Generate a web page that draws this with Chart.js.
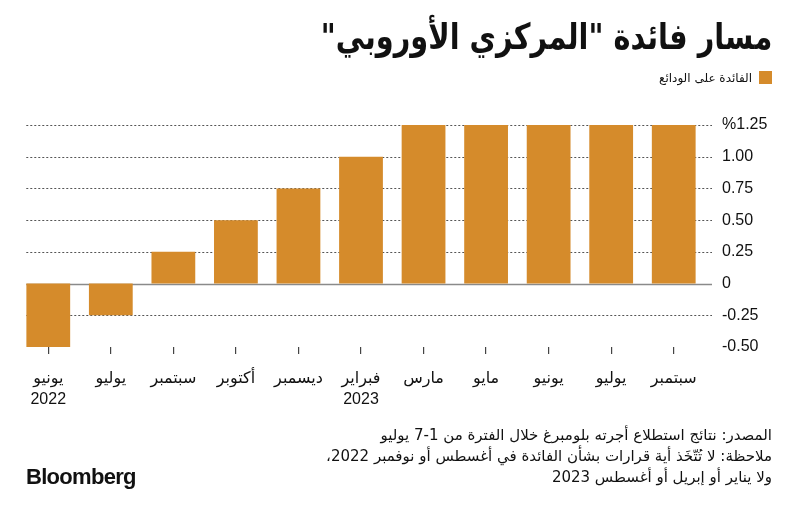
<!DOCTYPE html>
<html lang="ar">
<head>
<meta charset="utf-8">
<script src="https://cdn.jsdelivr.net/npm/chart.js@4"></script>
<style>
  html, body { margin: 0; padding: 0; background: #fff; }
  #wrap { position: relative; width: 800px; height: 516px; overflow: hidden; }
  #c { position: absolute; left: 0; top: 0; }
  .txt { position: absolute; direction: rtl; font-family: "DejaVu Sans", sans-serif; color: #111; white-space: nowrap; }
  #title { right: 28px; top: 16px; font-size: 36px; font-weight: bold; transform: scaleX(0.8); transform-origin: right top; }
  #legend { right: 28px; top: 71px; font-size: 12px; }
  #legend span.sw { display: inline-block; width: 13px; height: 13px; background: #D58B2B; vertical-align: -2px; margin-left: 7px; }
  #note { right: 28px; top: 425px; font-size: 15px; line-height: 21px; text-align: right; }
  #brand { left: 26px; top: 464px; font-family: "Liberation Sans", Arial, sans-serif; font-weight: bold; font-size: 22px; letter-spacing: -0.7px; direction: ltr; }
</style>
</head>
<body>
<div id="wrap">
  <canvas id="c" width="800" height="516"></canvas>
  <div class="txt" id="title">مسار فائدة "المركزي الأوروبي"</div>
  <div class="txt" id="legend"><span class="sw"></span>الفائدة على الودائع</div>
  <div class="txt" id="note">المصدر: نتائج استطلاع أجرته بلومبرغ خلال الفترة من 1-7 يوليو<br>ملاحظة: لا تُتّخَذ أية قرارات بشأن الفائدة في أغسطس أو نوفمبر 2022،<br>ولا يناير أو إبريل أو أغسطس 2023</div>
  <div class="txt" id="brand">Bloomberg</div>
</div>
<script>
const months = [['يونيو','2022'], 'يوليو', 'سبتمبر', 'أكتوبر', 'ديسمبر', ['فبراير','2023'], 'مارس', 'مايو', 'يونيو', 'يوليو', 'سبتمبر'];
const depositRate = [-0.5, -0.25, 0.25, 0.5, 0.75, 1.0, 1.25, 1.25, 1.25, 1.25, 1.25];
const yTicks = [-0.5, -0.25, 0, 0.25, 0.5, 0.75, 1.0, 1.25];
const yTickLabels = ['-0.50', '-0.25', '0', '0.25', '0.50', '0.75', '1.00', '%1.25'];

const BAR = '#D58B2B';

// dotted grid + solid zero line, drawn a bit wider than the plot like the original
const gridLines = {
  id: 'gridLines',
  beforeDatasetsDraw(chart) {
    const { ctx, scales: { x, y } } = chart;
    const left = x.getPixelForValue(0) - 22;
    const right = chart.chartArea.right + 7;
    ctx.save();
    yTicks.forEach(v => {
      if (v === -0.5) return;
      const py = Math.round(y.getPixelForValue(v)) + 0.5;
      ctx.beginPath();
      if (v === 0) {
        ctx.setLineDash([]);
        ctx.strokeStyle = '#8a8a8a';
        ctx.lineWidth = 1.3;
      } else {
        ctx.setLineDash([2, 2]);
        ctx.strokeStyle = '#555';
        ctx.lineWidth = 1;
      }
      ctx.moveTo(left, py);
      ctx.lineTo(right, py);
      ctx.stroke();
    });
    ctx.restore();
  }
};

new Chart(document.getElementById('c'), {
  type: 'bar',
  data: {
    labels: months,
    datasets: [{
      data: depositRate,
      backgroundColor: BAR,
      borderWidth: 0,
      categoryPercentage: 1,
      barPercentage: 0.7
    }]
  },
  options: {
    responsive: false,
    animation: false,
    layout: { padding: { left: 17, top: 125, right: 0, bottom: 109 } },
    plugins: { legend: { display: false }, tooltip: { enabled: false } },
    scales: {
      x: {
        offset: true,
        grid: { display: true, drawOnChartArea: false, offset: false, tickLength: 7, color: '#444', lineWidth: 1.2 },
        border: { display: false },
        ticks: {
          color: '#111',
          padding: 14,
          maxRotation: 0,
          autoSkip: false,
          font: { family: '"Liberation Sans", "DejaVu Sans", sans-serif', size: 16, lineHeight: 1.3 }
        },
        afterFit(s) { s.height = 60; }
      },
      y: {
        position: 'right',
        min: -0.5,
        max: 1.25,
        afterBuildTicks(s) { s.ticks = yTicks.map(v => ({ value: v })); },
        grid: { display: false },
        border: { display: false },
        ticks: {
          color: '#111',
          padding: 9,
          crossAlign: 'near',
          font: { family: '"Liberation Sans", "DejaVu Sans", sans-serif', size: 16 },
          callback(v) { return yTickLabels[yTicks.indexOf(v)]; }
        },
        afterFit(s) { s.width = 95; }
      }
    }
  },
  plugins: [gridLines]
});
</script>
</body>
</html>
